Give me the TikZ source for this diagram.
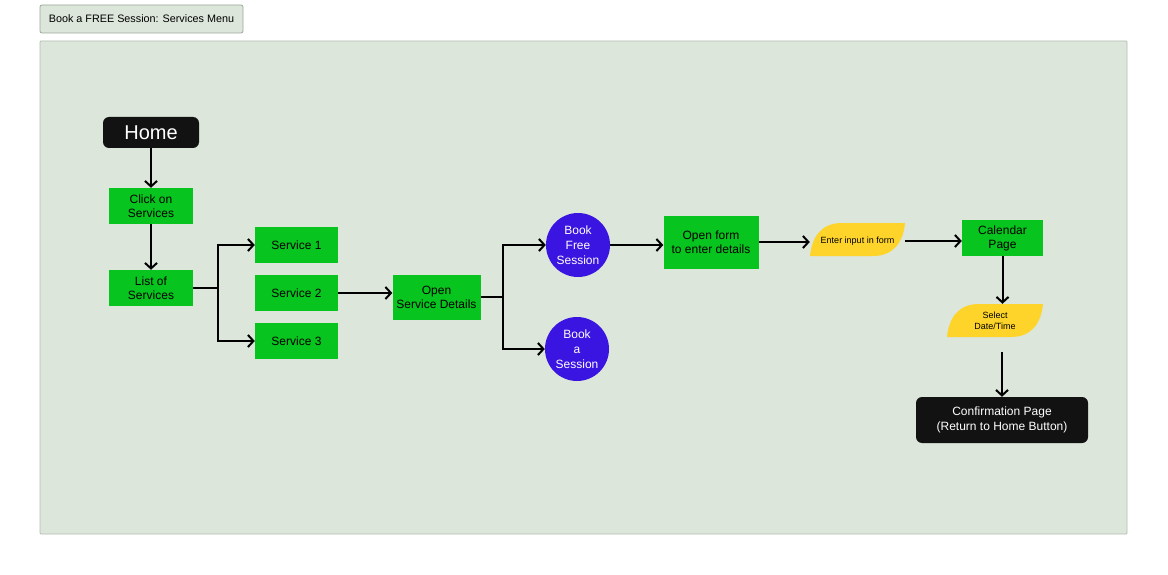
\documentclass[tikz,border=0pt]{standalone}
\usepackage{fontspec}
\setmainfont{Liberation Sans}
\usetikzlibrary{arrows.meta}
\definecolor{bgframe}{HTML}{DCE6DA}
\definecolor{frameline}{HTML}{B4BEB2}
\definecolor{titleline}{HTML}{9EA79C}
\definecolor{gbox}{HTML}{08C41E}
\definecolor{pcirc}{HTML}{3A14E0}
\definecolor{yshape}{HTML}{FED42A}
\definecolor{dark}{HTML}{121212}
\tikzset{
  gstep/.style={fill=gbox, draw=none, inner sep=0pt, align=center, font=\fontsize{12}{14}\selectfont, text=black},
  dstep/.style={fill=dark, draw=none, rounded corners=6pt, inner sep=0pt, align=center, text=white},
  pcircle/.style={circle, fill=pcirc, draw=none, minimum size=64pt, inner sep=0pt, align=center, text=white, font=\fontsize{12}{15}\selectfont},
  ytext/.style={draw=none, inner sep=0pt, align=center, font=\fontsize{9}{11}\selectfont, text=black},
  conn/.style={line width=2pt, -{Straight Barb[length=5.5pt,width=12pt,line width=2pt]}},
  plain/.style={line width=2pt}
}
\begin{document}
\begin{tikzpicture}[x=1pt,y=-1pt]
\useasboundingbox (0,0) rectangle (1168,575);
\fill[white] (0,0) rectangle (1168,575);
% title
\node[draw=titleline, line width=0.8pt, fill=bgframe, rounded corners=2pt, minimum width=203pt, minimum height=28pt, inner sep=0pt, font=\fontsize{10.8}{13}\selectfont] (title) at (141.5,19) {Book a FREE Session: Services Menu};
% frame
\draw[frameline, fill=bgframe, line width=0.8pt, rounded corners=1pt] (40,41) rectangle (1127,534);
% nodes
\node[dstep, minimum width=96pt, minimum height=31pt, font=\fontsize{20}{22}\selectfont] (home) at (151,132.5) {Home};
\node[gstep, minimum width=84pt, minimum height=36pt] (click) at (151,206) {Click on\\Services};
\node[gstep, minimum width=84pt, minimum height=36pt] (list) at (151,288) {List of\\Services};
\node[gstep, minimum width=83pt, minimum height=36pt] (s1) at (296.5,245) {Service 1};
\node[gstep, minimum width=83pt, minimum height=36pt] (s2) at (296.5,293) {Service 2};
\node[gstep, minimum width=83pt, minimum height=36pt] (s3) at (296.5,341) {Service 3};
\node[gstep, minimum width=88pt, minimum height=45pt] (osd) at (436.5,297) {Open\\Service Details};
\node[pcircle] (bfs) at (578,245) {Book\\Free\\Session};
\node[pcircle] (bas) at (577,349) {Book\\a\\Session};
\node[gstep, minimum width=95pt, minimum height=53pt] (form) at (711,242) {Open form\\to enter details};
% enter input shape
\fill[yshape] (810,256) .. controls (812,236) and (822,223) .. (842,223) -- (905,223) .. controls (903,243) and (893,256) .. (873,256) -- cycle;
\node[ytext, minimum width=95pt, minimum height=33pt] (enter) at (857.5,241) {Enter input in form};
\node[gstep, minimum width=81pt, minimum height=36pt] (cal) at (1002.5,238) {Calendar\\Page};
\fill[yshape] (947,337) .. controls (949,317) and (959,304) .. (979,304) -- (1043,304) .. controls (1041,324) and (1031,337) .. (1011,337) -- cycle;
\node[ytext, minimum width=96pt, minimum height=33pt] (sel) at (995,320.5) {Select\\Date/Time};
\node[dstep, minimum width=172pt, minimum height=46pt, font=\fontsize{12}{15}\selectfont] (conf) at (1002,420) {Confirmation Page\\(Return to Home Button)};
% connectors
\draw[conn] (home.south) -- (click.north);
\draw[conn] (click.south) -- (list.north);
\coordinate (j1) at (218,288);
\draw[plain] (list.east) -- (j1);
\draw[conn] (j1) |- (s1.west);
\draw[conn] (j1) |- (s3.west);
\draw[conn] (s2.east) -- (osd.west |- s2.east);
\coordinate (j2) at (503,297);
\draw[plain] (osd.east) -- (j2);
\draw[conn] (j2) |- (bfs.west);
\draw[conn] (j2) |- (bas.west);
\draw[conn] (bfs.east) -- (form.west |- bfs.east);
\draw[conn] (form.east) -- (enter.west |- form.east);
\draw[conn] (enter.east) -- (cal.west |- enter.east);
\draw[conn] (cal.south) -- (cal.south |- sel.north);
\draw[conn, shorten <=15pt] (sel.south -| conf.north) -- (conf.north);
\end{tikzpicture}
\end{document}
